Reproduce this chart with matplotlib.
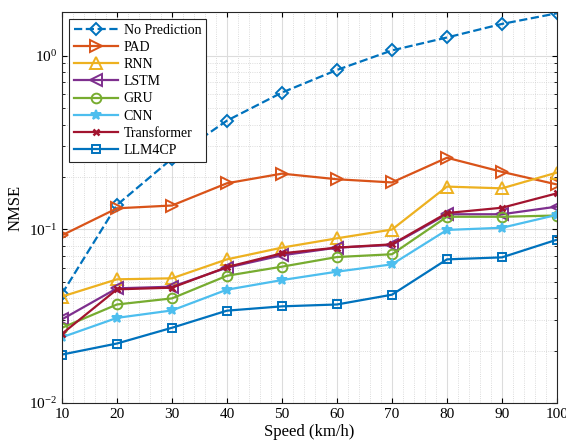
import numpy as np
import matplotlib
matplotlib.use('Agg')
import matplotlib.pyplot as plt
from matplotlib.ticker import LogLocator, NullFormatter, MultipleLocator

speed = [10, 20, 30, 40, 50, 60, 70, 80, 90, 100]

nmse_noPred = [0.0425, 0.138, 0.255, 0.422, 0.612, 0.826, 1.07, 1.27, 1.52, 1.75]
nmse_pad = [0.0923, 0.132, 0.137, 0.184, 0.209, 0.194, 0.186, 0.258, 0.214, 0.181]
nmse_rnn = [0.0410, 0.0515, 0.0522, 0.0671, 0.0784, 0.0887, 0.0996, 0.176, 0.172, 0.212]
nmse_lstm = [0.0303, 0.0457, 0.0467, 0.0601, 0.0708, 0.0784, 0.0812, 0.122, 0.122, 0.135]
nmse_gru = [0.0271, 0.0369, 0.0400, 0.0540, 0.0609, 0.0692, 0.0718, 0.118, 0.118, 0.120]
nmse_cnn = [0.0239, 0.0309, 0.0341, 0.0449, 0.0510, 0.0570, 0.0628, 0.0991, 0.102, 0.121]
nmse_trans = [0.0250, 0.0451, 0.0461, 0.0606, 0.0727, 0.0784, 0.0819, 0.124, 0.133, 0.161]
nmse_llm = [0.0190, 0.0220, 0.0271, 0.0340, 0.0360, 0.0369, 0.0420, 0.0671, 0.0689, 0.0871]

plt.rcParams['font.family'] = ['Liberation Serif', 'DejaVu Serif']
plt.rcParams['mathtext.fontset'] = 'stix'

fig = plt.figure(figsize=(5.66, 4.45), dpi=100)
ax = fig.add_axes([0.1095, 0.0944, 0.8745, 0.8786])

lw = 1.6
ms = 7
ax.plot(speed, nmse_noPred, '--D', color='#0072BD', lw=lw, ms=6, mfc='none', mew=1.4, label='No Prediction')
ax.plot(speed, nmse_pad, '->', color='#D95319', lw=lw, ms=ms + 1, mfc='none', mew=1.4, label='PAD')
ax.plot(speed, nmse_rnn, '-^', color='#EDB120', lw=lw, ms=ms + 1, mfc='none', mew=1.4, label='RNN')
ax.plot(speed, nmse_lstm, '-<', color='#7E2F8E', lw=lw, ms=ms + 1, mfc='none', mew=1.4, label='LSTM')
ax.plot(speed, nmse_gru, '-o', color='#77AC30', lw=lw, ms=ms, mfc='none', mew=1.4, label='GRU')
ax.plot(speed, nmse_cnn, '-*', color='#4DBEEE', lw=lw, ms=ms, mew=1.4, label='CNN')
ax.plot(speed, nmse_trans, '-x', color='#A2142F', lw=lw, ms=5, mew=1.8, label='Transformer')
ax.plot(speed, nmse_llm, '-s', color='#0072BD', lw=lw, ms=6, mfc='none', mew=1.4, label='LLM4CP')

ax.set_yscale('log')
ax.set_xlim(10, 100)
ax.set_ylim(1e-2, 1.78)
ax.set_xticks(speed)
ax.yaxis.set_major_locator(LogLocator(base=10, numticks=10))
ax.yaxis.set_minor_locator(LogLocator(base=10, subs=np.arange(2, 10), numticks=10))
ax.yaxis.set_minor_formatter(NullFormatter())
ax.xaxis.set_minor_locator(MultipleLocator(2))

# solid major grid, dotted minor grid
ax.grid(True, which='major', color='#dcdcdc', lw=0.8, ls='-')
ax.grid(True, which='minor', color='#d0d0d0', lw=0.6, ls=':')
ax.set_axisbelow(True)
ax.tick_params(which='both', direction='in', top=True, right=True, labelsize=11)
ax.tick_params(axis='x', which='minor', length=0)
for s in ax.spines.values():
    s.set_linewidth(0.8)
    s.set_color('#262626')

ax.set_xlabel('Speed (km/h)', fontsize=12, labelpad=2)
ax.set_ylabel('NMSE', fontsize=12, labelpad=4)

leg = ax.legend(loc='upper left', fontsize=10, handlelength=3.2, borderpad=0.35,
                labelspacing=0.3, handletextpad=0.4, fancybox=False,
                framealpha=1, edgecolor='#262626', borderaxespad=0.5)
leg.get_frame().set_linewidth(0.8)

fig.savefig('out.png', dpi=100)
